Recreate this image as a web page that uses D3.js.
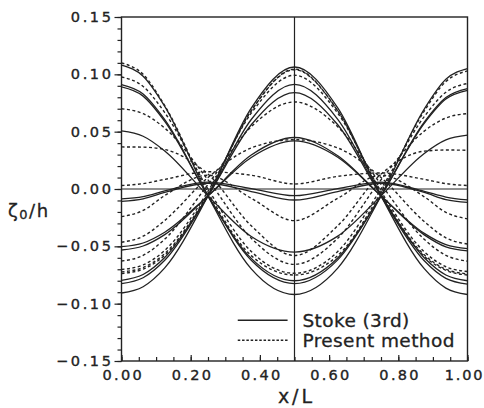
<!DOCTYPE html>
<html>
<head>
<meta charset="utf-8">
<script src="https://cdn.jsdelivr.net/npm/d3@7"></script>
<style>
  body { margin: 0; background: #fff; }
  svg { display: block; font-family: "DejaVu Sans", sans-serif; }
</style>
</head>
<body>
<div id="chart"></div>
<script>
// sample positions along x/L
const xs = [0, 0.0625, 0.125, 0.25, 0.375, 0.5, 0.625, 0.75, 0.875, 0.9375, 1];

// Stoke (3rd) profiles
const stoke1 = [0.108, 0.0983, 0.072, -0.006, -0.0697, -0.092, -0.069, -0.006, 0.0697, 0.0957, 0.105];
const stoke2 = [0.091, 0.0828, 0.0604, -0.006, -0.0622, -0.0825, -0.0618, -0.006, 0.0584, 0.0798, 0.0876];
const stoke3 = [0.089, 0.081, 0.059, -0.006, -0.0605, -0.080, -0.0602, -0.006, 0.0572, 0.0784, 0.086];
const stoke4 = [0.0506, 0.046, 0.0332, -0.006, -0.0414, -0.055, -0.0411, -0.006, 0.031, 0.0428, 0.0469];
const stoke5 = [-0.0087, -0.0066, -0.0016, 0.006, 0.0004, -0.0058, 0.0004, 0.006, -0.002, -0.007, -0.0095];
const stoke6 = [-0.0108, -0.0086, -0.003, 0.005, -0.0022, -0.0096, -0.0022, 0.005, -0.003, -0.0092, -0.0116];
const stoke7 = [-0.0907, -0.0852, -0.0688, -0.006, 0.0706, 0.1064, 0.0707, -0.006, -0.0695, -0.0864, -0.092];
const stoke8 = [-0.0825, -0.0774, -0.0622, -0.006, 0.0606, 0.0913, 0.0608, -0.006, -0.0626, -0.0779, -0.083];
const stoke9 = [-0.0796, -0.0746, -0.0598, -0.006, 0.056, 0.0841, 0.056, -0.006, -0.060, -0.075, -0.080];
const stoke10 = [-0.0532, -0.0497, -0.0398, -0.006, 0.0296, 0.0449, 0.029, -0.006, -0.040, -0.0505, -0.054];
const stoke11 = [-0.0503, -0.0471, -0.0377, -0.006, 0.0275, 0.0419, 0.0277, -0.006, -0.0387, -0.0485, -0.052];

// Present method profiles
const present1 = [0.110, 0.100, 0.0727, -0.003, -0.0581, -0.075, -0.0581, -0.003, 0.068, 0.0937, 0.103];
const present2 = [0.0977, 0.0894, 0.0666, 0.0, -0.0545, -0.0735, -0.0545, 0.0, 0.0631, 0.0844, 0.092];
const present3 = [0.070, 0.0657, 0.0531, 0.008, -0.0429, -0.0657, -0.0429, 0.008, 0.0505, 0.0619, 0.0658];
const present4 = [0.0367, 0.0365, 0.0344, 0.013, -0.032, -0.058, -0.032, 0.013, 0.033, 0.034, 0.0338];
const present5 = [0.003, 0.0047, 0.0084, 0.015, 0.012, 0.0044, 0.011, 0.014, 0.0084, 0.0047, 0.003];
const present6 = [-0.0241, -0.0187, -0.0057, 0.012, -0.0081, -0.0276, -0.0081, 0.012, -0.0068, -0.0204, -0.026];
const present7 = [-0.0464, -0.0412, -0.0274, 0.010, 0.0358, 0.043, 0.0358, 0.010, -0.0284, -0.0426, -0.048];
const present8 = [-0.0628, -0.0579, -0.0437, 0.004, 0.0543, 0.0759, 0.0543, 0.004, -0.0439, -0.0578, -0.063];
const present9 = [-0.0702, -0.0662, -0.0536, -0.002, 0.0661, 0.0992, 0.0661, -0.002, -0.0547, -0.0678, -0.072];
const present10 = [-0.0723, -0.0685, -0.0564, -0.004, 0.0682, 0.104, 0.0682, -0.004, -0.0574, -0.070, -0.074];
const present11 = [-0.0737, -0.0699, -0.0578, -0.005, 0.0682, 0.1045, 0.0682, -0.005, -0.0586, -0.071, -0.075];

const stokeSeries = [stoke1, stoke2, stoke3, stoke4, stoke5, stoke6, stoke7, stoke8, stoke9, stoke10, stoke11];
const presentSeries = [present1, present2, present3, present4, present5, present6, present7, present8, present9, present10, present11];

const xTicks = [0, 0.2, 0.4, 0.6, 0.8, 1.0];
const yTicks = [-0.15, -0.10, -0.05, 0.00, 0.05, 0.10, 0.15];
const legendNames = ["Stoke (3rd)", "Present method"];

const width = 484,
    height = 408,
    margin = ({ top: 17, right: 16.5, bottom: 47, left: 121.5 });

const ink = "#222";

const svg = d3.select("#chart")
    .append("svg")
    .attr("width", width)
    .attr("height", height);

let x = d3.scaleLinear([0, 1], [margin.left, width - margin.right]);
let y = d3.scaleLinear([-0.15, 0.15], [height - margin.bottom, margin.top]);

const fmt = d3.format(".2f");
const minus = d => fmt(d).replace("-", "\u2212");

// y axis: minor ticks every 0.01, major every 0.05
svg.append("g")
    .attr("transform", `translate(${margin.left},0)`)
    .call(d3.axisLeft(y).tickValues(d3.range(-15, 16).map(d => d / 100)).tickSize(4).tickFormat(""))
    .call(g => g.select(".domain").remove())
    .selectAll("line").attr("stroke", ink).attr("stroke-width", 1.2);

const yAx = svg.append("g")
    .attr("transform", `translate(${margin.left},0)`)
    .call(d3.axisLeft(y).tickValues(yTicks).tickSize(7).tickPadding(1).tickFormat(minus))
    .call(g => g.select(".domain").remove());
yAx.selectAll("line").attr("stroke", ink).attr("stroke-width", 1.2);
yAx.selectAll("text")
    .attr("fill", ink)
    .attr("stroke", ink)
    .attr("stroke-width", 0.35)
    .style("font-size", "14.5px")
    .style("letter-spacing", "2.6px")
    .style("font-family", "DejaVu Sans");

// x axis: ticks point inward
svg.append("g")
    .attr("transform", `translate(0,${height - margin.bottom})`)
    .call(d3.axisTop(x).tickValues(d3.range(0, 21).map(d => d / 20)).tickSize(4).tickFormat(""))
    .call(g => g.select(".domain").remove())
    .selectAll("line").attr("stroke", ink).attr("stroke-width", 1.2);

const xAx = svg.append("g")
    .attr("transform", `translate(0,${height - margin.bottom})`)
    .call(d3.axisBottom(x).tickValues(xTicks).tickSize(0).tickPadding(9).tickFormat(fmt))
    .call(g => g.select(".domain").remove());
xAx.selectAll("text")
    .attr("fill", ink)
    .attr("stroke", ink)
    .attr("stroke-width", 0.35)
    .attr("dx", (d, i) => i == xTicks.length - 1 ? -3.5 : 1.3)
    .style("font-size", "14.5px")
    .style("letter-spacing", (d, i) => i == xTicks.length - 1 ? "1.8px" : "2.3px")
    .style("font-family", "DejaVu Sans");

svg.append("g")
    .attr("transform", `translate(0,${height - margin.bottom})`)
    .call(d3.axisTop(x).tickValues(xTicks).tickSize(6).tickFormat(""))
    .call(g => g.select(".domain").remove())
    .selectAll("line").attr("stroke", ink).attr("stroke-width", 1.2);

// frame, zero line and mid line
svg.append("rect")
    .attr("x", x(0))
    .attr("y", y(0.15))
    .attr("width", x(1) - x(0))
    .attr("height", y(-0.15) - y(0.15))
    .attr("fill", "none")
    .attr("stroke", ink)
    .attr("stroke-width", 1.4);

svg.append("line")
    .attr("x1", x(0)).attr("x2", x(1))
    .attr("y1", y(0)).attr("y2", y(0))
    .attr("stroke", ink).attr("stroke-width", 1.2);

svg.append("line")
    .attr("x1", x(0.5)).attr("x2", x(0.5))
    .attr("y1", y(0.15)).attr("y2", y(-0.15))
    .attr("stroke", ink).attr("stroke-width", 1.2);

const line = d3.line()
    .x((d, i) => x(xs[i]))
    .y(d => y(d))
    .curve(d3.curveMonotoneX);

svg.append("g")
    .selectAll("path")
    .data(presentSeries)
    .join("path")
    .attr("d", line)
    .attr("fill", "none")
    .attr("stroke", ink)
    .attr("stroke-width", 1.4)
    .attr("stroke-dasharray", "3,2.5");

svg.append("g")
    .selectAll("path")
    .data(stokeSeries)
    .join("path")
    .attr("d", line)
    .attr("fill", "none")
    .attr("stroke", ink)
    .attr("stroke-width", 1.3);

// legend
const legend = svg.append("g").attr("class", "legend");
legendNames.forEach((name, i) => {
    const ly = y(-0.1145) + i * 20;
    legend.append("line")
        .attr("x1", x(0.336)).attr("x2", x(0.48))
        .attr("y1", ly).attr("y2", ly)
        .attr("stroke", ink)
        .attr("stroke-width", 1.4)
        .attr("stroke-dasharray", i == 0 ? null : "2.5,1.8");
    legend.append("text")
        .attr("x", x(0.523))
        .attr("y", ly + 7)
        .attr("fill", ink)
        .attr("stroke", ink)
        .attr("stroke-width", 0.3)
        .style("font-size", "18.5px")
        .style("letter-spacing", "0.4px")
        .text(name);
});

// axis titles
const yLabel = svg.append("text")
    .attr("x", 8)
    .attr("y", 217)
    .attr("fill", ink)
    .attr("stroke", ink)
    .attr("stroke-width", 0.3)
    .style("font-size", "18px")
    .style("letter-spacing", "1.5px");
yLabel.append("tspan").text("\u03b6");
yLabel.append("tspan").attr("dy", 2).style("font-size", "13px").text("0");
yLabel.append("tspan").attr("dy", -2).text("/h");

svg.append("text")
    .attr("x", x(0.5) + 2)
    .attr("y", 403)
    .attr("text-anchor", "middle")
    .attr("fill", ink)
    .attr("stroke", ink)
    .attr("stroke-width", 0.3)
    .style("font-size", "19px")
    .style("letter-spacing", "3px")
    .text("x/L");
</script>
</body>
</html>
